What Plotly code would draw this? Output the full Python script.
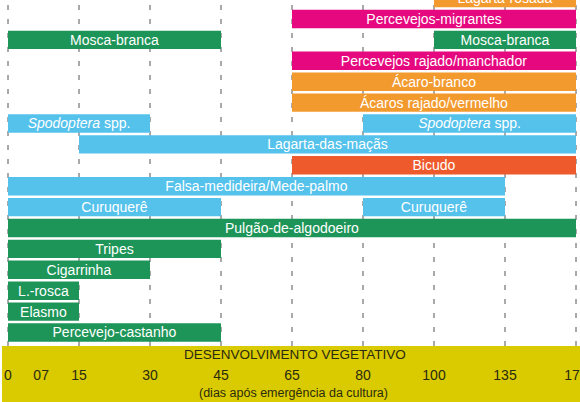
import plotly.graph_objects as go

# ---- data ----
day_ticks = [0, 15, 30, 45, 65, 80, 100, 135, 170]
tick_labels = ["0", "07", "15", "30", "45", "65", "80", "100", "135", "170"]
tick_positions_days = [0, 7, 15, 30, 45, 65, 80, 100, 135, 170]

rows = ["Lagarta-rosada", "Percevejos-migrantes", "Mosca-branca",
        "Percevejos rajado/manchador", "Ácaro-branco", "Ácaros rajado/vermelho",
        "Spodoptera spp.", "Lagarta-das-maçãs", "Bicudo",
        "Falsa-medideira/Mede-palmo", "Curuquerê", "Pulgão-de-algodoeiro",
        "Tripes", "Cigarrinha", "L.-rosca", "Elasmo", "Percevejo-castanho"]

seg_row = ["Lagarta-rosada", "Percevejos-migrantes", "Mosca-branca", "Mosca-branca",
           "Percevejos rajado/manchador", "Ácaro-branco", "Ácaros rajado/vermelho",
           "Spodoptera spp.", "Spodoptera spp.", "Lagarta-das-maçãs", "Bicudo",
           "Falsa-medideira/Mede-palmo", "Curuquerê", "Curuquerê",
           "Pulgão-de-algodoeiro", "Tripes", "Cigarrinha", "L.-rosca", "Elasmo",
           "Percevejo-castanho"]
seg_start = [100, 65, 0, 100, 65, 65, 65, 0, 80, 15, 65, 0, 0, 80, 0, 0, 0, 0, 0, 0]
seg_end = [170, 170, 45, 170, 170, 170, 170, 30, 170, 170, 170, 135, 45, 135,
           170, 45, 30, 15, 15, 45]
seg_group = ["orange", "magenta", "green", "green", "magenta", "orange", "orange",
             "blue", "blue", "blue", "red", "blue", "blue", "blue",
             "green", "green", "green", "green", "green", "green"]

colors = {"green": "#1E9558", "blue": "#55C2EC", "magenta": "#E5087F",
          "orange": "#F39A2F", "red": "#EE5A2B"}

FONT = "Liberation Sans, Arial, sans-serif"


def day_to_pos(d):
    # ordinal axis: tick days are equally spaced
    for i in range(len(day_ticks) - 1):
        a, b = day_ticks[i], day_ticks[i + 1]
        if a <= d <= b:
            return i + (d - a) / (b - a)
    return float(len(day_ticks) - 1)


n = len(rows)
ypos = {r: n - 1 - i for i, r in enumerate(rows)}

labels = []
for r in seg_row:
    labels.append("<i>Spodoptera</i> spp." if r.startswith("Spodoptera") else r)

fig = go.Figure()
fig.add_trace(go.Bar(
    orientation="h",
    y=[ypos[r] for r in seg_row],
    base=[day_to_pos(s) for s in seg_start],
    x=[day_to_pos(e) - day_to_pos(s) for s, e in zip(seg_start, seg_end)],
    width=0.88,
    marker=dict(color=[colors[g] for g in seg_group], line=dict(width=0)),
    text=labels,
    textposition="inside",
    insidetextanchor="middle",
    constraintext="none",
    textangle=0,
    textfont=dict(color="white", size=14, family=FONT),
    hoverinfo="skip",
))

shapes = []
# yellow band under the plot
shapes.append(dict(type="rect", xref="paper", yref="paper",
                   x0=2 / 580, x1=1, y0=-56 / 346, y1=0,
                   fillcolor="#DACB00", line=dict(width=0), layer="below"))
# dashed vertical guide lines
for d in day_ticks:
    p = day_to_pos(d)
    shapes.append(dict(type="line", xref="x", yref="paper", x0=p, x1=p, y0=0, y1=1,
                       line=dict(color="#555555", width=1, dash="5px,9px"),
                       layer="below"))

fig.update_layout(
    width=580, height=402,
    margin=dict(l=0, r=0, t=0, b=56, autoexpand=False),
    paper_bgcolor="white", plot_bgcolor="white",
    barmode="overlay",
    showlegend=False,
    shapes=shapes,
    xaxis=dict(range=[-8 / 71, -8 / 71 + 580 / 71],
               tickvals=[day_to_pos(d) for d in tick_positions_days],
               ticktext=tick_labels,
               showgrid=False, zeroline=False, showline=False, ticks="",
               automargin=False,
               ticklabelstandoff=19,
               ticklabeloverflow="allow",
               tickfont=dict(size=14, color="#2a2a10", family=FONT),
               fixedrange=True),
    yaxis=dict(range=[-0.646, 15.909], showticklabels=False, showgrid=False,
               zeroline=False, showline=False, fixedrange=True, automargin=False),
    annotations=[
        dict(text="DESENVOLVIMENTO VEGETATIVO", xref="paper", yref="paper",
             x=295 / 580, y=-9 / 346, xanchor="center", yanchor="middle",
             showarrow=False, font=dict(size=13.5, color="#2a2a10", family=FONT)),
        dict(text="(dias após emergência da cultura)", xref="paper", yref="paper",
             x=293 / 580, y=-47 / 346, xanchor="center", yanchor="middle",
             showarrow=False, font=dict(size=12.5, color="#2a2a10", family=FONT)),
    ],
)

fig.write_html("out.html")
